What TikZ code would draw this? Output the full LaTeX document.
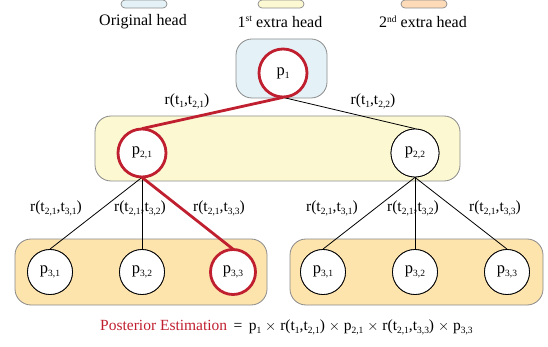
\documentclass[tikz,border=0pt]{standalone}
\usepackage{fontspec}
\setmainfont{Liberation Serif}
\newcommand\sbs[1]{\raisebox{-0.45ex}{\fontsize{9.5}{9.5}\selectfont #1}}
\newcommand\sps[1]{\raisebox{0.75ex}{\fontsize{9.5}{9.5}\selectfont #1}}
\definecolor{hblue}{HTML}{E4F2F7}
\definecolor{hyellow}{HTML}{FBF8D2}
\definecolor{horange}{HTML}{FDE3AC}
\definecolor{lorange}{HTML}{FDDBB8}
\definecolor{hred}{HTML}{C01F2F}
\definecolor{hgrey}{HTML}{8A8A8A}
\tikzset{
  headbox/.style={draw=hgrey, line width=0.8pt, rounded corners=16pt},
  legbox/.style={draw=hgrey, line width=0.7pt, rounded corners=4pt, minimum width=46pt, minimum height=8pt, inner sep=0pt},
  pnode/.style={circle, draw=black, line width=0.8pt, fill=white, minimum size=48pt, inner sep=0pt, font=\fontsize{16.5}{16.5}\selectfont},
  pthree/.style={pnode, minimum size=45pt},
  hot/.style={draw=hred, line width=2.8pt},
  edge/.style={draw=black, line width=0.8pt},
  hotedge/.style={draw=hred, line width=2.8pt},
  lab/.style={font=\fontsize{15.5}{15.5}\selectfont, inner sep=0pt},
  legtxt/.style={font=\fontsize{16}{16}\selectfont, inner sep=0pt}
}
\begin{document}
\begin{tikzpicture}[x=1pt,y=-1pt]
\useasboundingbox (0,0) rectangle (548,347);
% legend
\node[legbox, fill=hblue] (lb1) at (144,4) {};
\node[legbox, fill=hyellow] (lb2) at (281,4) {};
\node[legbox, fill=lorange] (lb3) at (424,4) {};
\node[legtxt] (lt1) at (143,22) {Original head};
\node[legtxt] (lt2) at (280,22) {1\sps{st} extra head};
\node[legtxt] (lt3) at (423,22) {2\sps{nd} extra head};
% head boxes
\draw[headbox, fill=hblue] (236,39) rectangle (327,98);
\draw[headbox, fill=hyellow] (95,116) rectangle (460,181);
\draw[headbox, fill=horange] (15,239) rectangle (267,305);
\draw[headbox, fill=horange] (290,239) rectangle (543,305);
% nodes
\node[pnode] (p1) at (283,73) {p\sbs{1}};
\node[pnode] (p21) at (142,153) {p\sbs{2,1}};
\node[pnode] (p22) at (415,153) {p\sbs{2,2}};
\node[pthree] (a31) at (50,272) {p\sbs{3,1}};
\node[pthree] (a32) at (142,272) {p\sbs{3,2}};
\node[pthree] (a33) at (233,272) {p\sbs{3,3}};
\node[pthree] (b31) at (323,272) {p\sbs{3,1}};
\node[pthree] (b32) at (415,272) {p\sbs{3,2}};
\node[pthree] (b33) at (507,272) {p\sbs{3,3}};
% edges
\draw[edge] (p1.south) -- (p22.north);
\draw[edge] (p21.south) -- (a31.north);
\draw[edge] (p21.south) -- (a32.north);
\draw[edge] (p22.south) -- (b31.north);
\draw[edge] (p22.south) -- (b32.north);
\draw[edge] (p22.south) -- (b33.north);
\draw[hotedge] (p1.south) -- (p21.north);
\draw[hotedge] (p21.south) -- (a33.north);
% redraw nodes on top
\node[pnode, hot] at (p1) {p\sbs{1}};
\node[pnode, hot] at (p21) {p\sbs{2,1}};
\node[pnode] at (p22) {p\sbs{2,2}};
\node[pthree] at (a31) {p\sbs{3,1}};
\node[pthree] at (a32) {p\sbs{3,2}};
\node[pthree, hot] at (a33) {p\sbs{3,3}};
\node[pthree] at (b31) {p\sbs{3,1}};
\node[pthree] at (b32) {p\sbs{3,2}};
\node[pthree] at (b33) {p\sbs{3,3}};
% labels
\node[lab] (l1) at (187,101) {r(t\sbs{1},t\sbs{2,1})};
\node[lab] (l2) at (373,101) {r(t\sbs{1},t\sbs{2,2})};
\node[lab] (l3) at (56,208) {r(t\sbs{2,1},t\sbs{3,1})};
\node[lab] (l4) at (140,208) {r(t\sbs{2,1},t\sbs{3,2})};
\node[lab] (l5) at (219,208) {r(t\sbs{2,1},t\sbs{3,3})};
\node[lab] (l6) at (332,208) {r(t\sbs{2,1},t\sbs{3,1})};
\node[lab] (l7) at (413,208) {r(t\sbs{2,1},t\sbs{3,2})};
\node[lab] (l8) at (495,208) {r(t\sbs{2,1},t\sbs{3,3})};
% formula
\node[lab, anchor=west] (f) at (100,327) {\textcolor{hred}{Posterior Estimation}\ \,=\ \,p\sbs{1} $\times$ r(t\sbs{1},t\sbs{2,1}) $\times$ p\sbs{2,1} $\times$ r(t\sbs{2,1},t\sbs{3,3}) $\times$ p\sbs{3,3}};
\end{tikzpicture}
\end{document}
